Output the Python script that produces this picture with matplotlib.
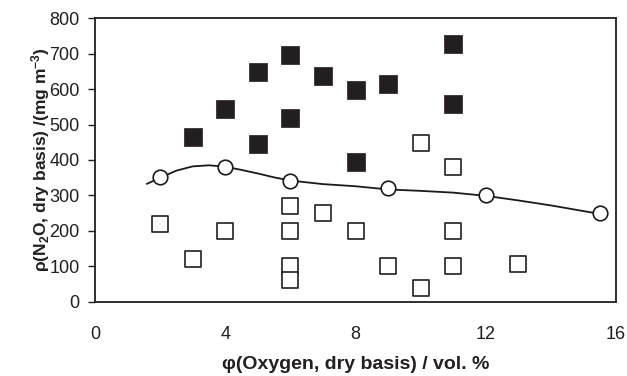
import matplotlib
matplotlib.use('Agg')
import matplotlib.pyplot as plt

plt.rcParams['font.family'] = ['Liberation Sans', 'DejaVu Sans']
plt.rcParams['mathtext.fontset'] = 'custom'
plt.rcParams['mathtext.rm'] = 'Liberation Sans:bold'
plt.rcParams['mathtext.default'] = 'rm'

# filled squares
x_filled = [3, 4, 5, 5, 6, 6, 7, 8, 8, 9, 11, 11]
y_filled = [465, 545, 445, 648, 695, 518, 638, 598, 395, 615, 728, 557]

# open squares
x_open = [2, 3, 4, 6, 6, 6, 6, 7, 8, 9, 10, 10, 11, 11, 11, 13]
y_open = [220, 120, 200, 270, 200, 100, 62, 250, 200, 100, 448, 40, 380, 200, 100, 108]

# circles
x_circ = [2, 4, 6, 9, 12, 15.5]
y_circ = [352, 380, 342, 320, 300, 250]

# smooth trend curve
x_curve = [1.6, 2.0, 2.5, 3.0, 3.5, 4.0, 4.5, 5.0, 5.5, 6.0, 7.0, 8.0, 9.0, 10.0, 11.0, 12.0, 13.0, 14.0, 15.0, 15.7]
y_curve = [333, 350, 370, 382, 385, 381, 372, 362, 351, 342, 332, 326, 317, 313, 308, 299, 286, 272, 256, 245]

xticks = [0, 4, 8, 12, 16]
yticks = [0, 100, 200, 300, 400, 500, 600, 700, 800]

fig = plt.figure(figsize=(6.27, 3.76), dpi=100)
ax = fig.add_axes([0.1515, 0.197, 0.831, 0.755])

ax.plot(x_curve, y_curve, color='#1a1a1a', lw=1.3, zorder=2)
ax.scatter(x_circ, y_circ, s=110, marker='o', facecolors='white', edgecolors='#1a1a1a', linewidths=1.2, zorder=3)
ax.scatter(x_filled, y_filled, s=175, marker='s', facecolors='#231f20', edgecolors='#231f20', linewidths=0.5, zorder=3)
ax.scatter(x_open, y_open, s=130, marker='s', facecolors='white', edgecolors='#231f20', linewidths=1.2, zorder=3)

ax.set_xlim(0, 16)
ax.set_ylim(0, 800)
ax.set_xticks(xticks)
ax.set_yticks(yticks)
ax.tick_params(axis='x', length=0, pad=17, labelsize=13, colors='#231f20')
ax.tick_params(axis='y', length=5, width=1, direction='out', pad=6, labelsize=13, colors='#231f20')
for s in ax.spines.values():
    s.set_linewidth(1.3)
    s.set_color('#231f20')

ax.set_xlabel('φ(Oxygen, dry basis) / vol. %', fontsize=14, fontweight='bold', labelpad=10, color='#231f20')
ax.set_ylabel(r'ρ(N$_2$O, dry basis) /(mg m$^{-3}$)', fontsize=12.5, fontweight='bold', labelpad=-2, color='#231f20')

fig.savefig('out.png', dpi=100)
